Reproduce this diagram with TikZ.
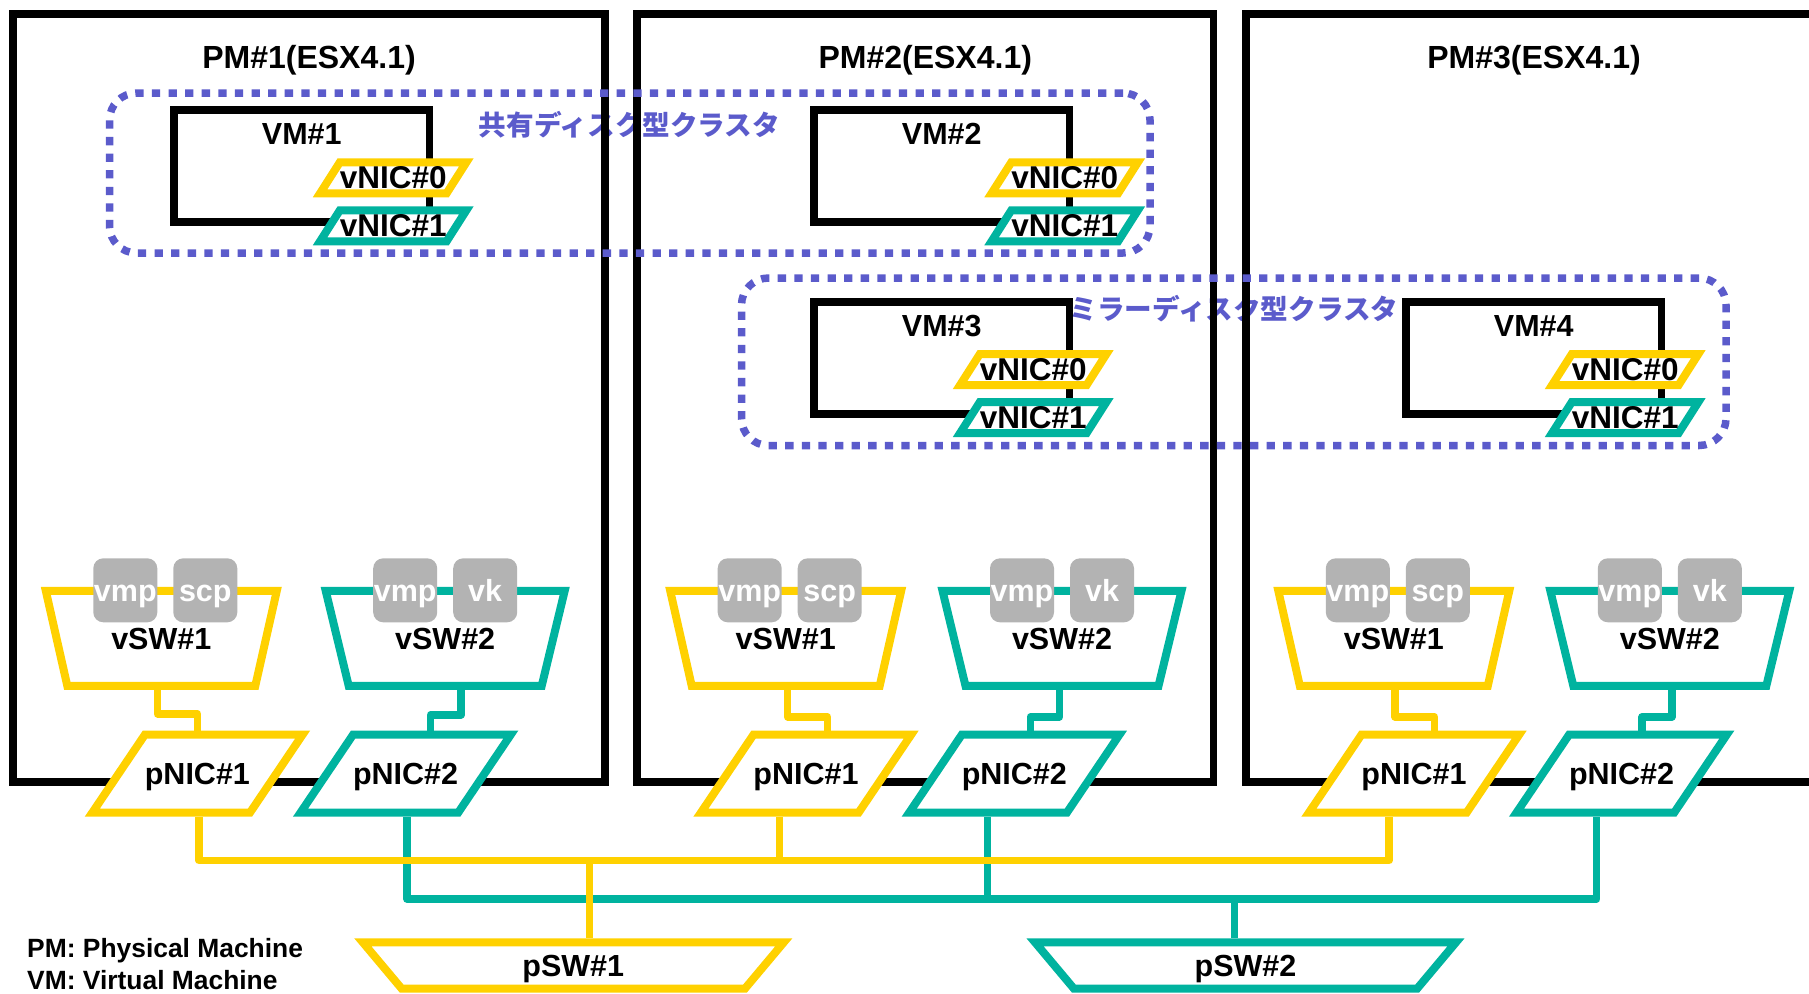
\documentclass[tikz,border=0pt]{standalone}
\usepackage{fontspec}
\setmainfont{Liberation Sans}
\newfontfamily\jpfont{Noto Sans CJK JP}
\usetikzlibrary{shapes.geometric}
\definecolor{nicyellow}{HTML}{FFD100}
\definecolor{nicteal}{HTML}{00B39F}
\definecolor{clusterblue}{HTML}{5B5BCB}
\definecolor{portgray}{HTML}{B3B3B3}
\tikzset{
  lbl/.style={font=\fontsize{30.5}{36}\selectfont\bfseries, text height=22pt, text depth=0pt, inner sep=0pt},
  title/.style={lbl, font=\fontsize{32}{38}\selectfont\bfseries},
  legend/.style={font=\fontsize{26.4}{32}\selectfont\bfseries, text height=19pt, text depth=0pt, inner sep=0pt, anchor=west},
  jplbl/.style={font=\jpfont\bfseries\fontsize{27.6}{32}\selectfont, text=clusterblue, inner sep=0pt},
  pmbox/.style={draw, line width=7.5pt, inner sep=0pt, minimum height=768pt},
  vmbox/.style={draw, line width=7.5pt, fill=white, inner sep=0pt, minimum width=255.5pt, minimum height=112pt},
  cluster/.style={draw=clusterblue, line width=7.5pt, dash pattern=on 8.3pt off 8.3pt, rounded corners=27pt, inner sep=0pt},
  shapebox/.style={trapezium, trapezium stretches body=true, fill=white, line width=8pt, lbl},
  vnic/.style={shapebox, trapezium left angle=57.5, trapezium right angle=122.5, minimum width=146pt, inner ysep=4.5pt, font=\fontsize{31.5}{36}\selectfont\bfseries},
  pnic/.style={shapebox, trapezium left angle=56, trapezium right angle=124, minimum width=208pt, inner ysep=28pt},
  vswa/.style={shapebox, trapezium angle=102.75, minimum width=231pt, inner ysep=36.5pt},
  vswb/.style={shapebox, trapezium angle=103.6, minimum width=239pt, inner ysep=36.5pt},
  psw/.style={shapebox, trapezium angle=130, minimum width=421pt, inner ysep=12.2pt},
  port/.style={lbl, fill=portgray, text=white, rounded corners=10pt, minimum size=64pt},
  ylw/.style={draw=nicyellow},
  tel/.style={draw=nicteal},
  ylwline/.style={nicyellow, line width=7.5pt, line join=round},
  telline/.style={nicteal, line width=7.5pt, line join=round}
}
\begin{document}
\begin{tikzpicture}[x=1pt, y=-1pt]
    \useasboundingbox (0,0) rectangle (1809,993);
    % cluster names lie under the machine frames
    \node[jplbl] (jp1) at (629.5,125) {共有ディスク型クラスタ};
    \node[jplbl] (jp2) at (1234,309) {ミラーディスク型クラスタ};
    % physical machines
    \node[pmbox, minimum width=592pt] (pm1) at (309,398) {};
    \node[pmbox, minimum width=576.5pt] (pm2) at (925.25,398) {};
    \node[pmbox, minimum width=576pt] (pm3) at (1534,398) {};
    \node[title] (pm1t) at (309,57) {PM\#1(ESX4.1)};
    \node[title] (pm2t) at (925.25,57) {PM\#2(ESX4.1)};
    \node[title] (pm3t) at (1534,57) {PM\#3(ESX4.1)};
    % virtual machines
    \node[vmbox] (vm1) at (301.75,166) {};
    \node[vmbox] (vm2) at (941.75,166) {};
    \node[vmbox] (vm3) at (941.75,357.75) {};
    \node[vmbox] (vm4) at (1533.75,357.75) {};
    \node[lbl] (vm1t) at ([yshift=-27pt]vm1.north) {VM\#1};
    \node[lbl] (vm2t) at ([yshift=-27pt]vm2.north) {VM\#2};
    \node[lbl] (vm3t) at ([yshift=-27pt]vm3.north) {VM\#3};
    \node[lbl] (vm4t) at ([yshift=-27pt]vm4.north) {VM\#4};
    \node[vnic, ylw] (vnic10) at ([xshift=-40pt,yshift=48pt]vm1.south east) {vNIC\#0};
    \node[vnic, tel] (vnic11) at ([xshift=-40pt]vm1.south east) {vNIC\#1};
    \node[vnic, ylw] (vnic20) at ([xshift=-8.5pt,yshift=48pt]vm2.south east) {vNIC\#0};
    \node[vnic, tel] (vnic21) at ([xshift=-8.5pt]vm2.south east) {vNIC\#1};
    \node[vnic, ylw] (vnic30) at ([xshift=-40pt,yshift=48pt]vm3.south east) {vNIC\#0};
    \node[vnic, tel] (vnic31) at ([xshift=-40pt]vm3.south east) {vNIC\#1};
    \node[vnic, ylw] (vnic40) at ([xshift=-40pt,yshift=48pt]vm4.south east) {vNIC\#0};
    \node[vnic, tel] (vnic41) at ([xshift=-40pt]vm4.south east) {vNIC\#1};
    % clusters
    \node[cluster, minimum width=1040.5pt, minimum height=160pt] (cl1) at (629.75,173) {};
    \node[cluster, minimum width=984.5pt, minimum height=167.5pt] (cl2) at (1233.75,361.75) {};
    % virtual switches
    \node[vswa, ylw] (vsw11) at (161.3,638.3) {vSW\#1};
    \node[vswb, tel] (vsw12) at (445.2,638.3) {vSW\#2};
    \node[vswa, ylw] (vsw21) at (785.7,638.3) {vSW\#1};
    \node[vswb, tel] (vsw22) at (1062,638.3) {vSW\#2};
    \node[vswa, ylw] (vsw31) at (1393.8,638.3) {vSW\#1};
    \node[vswb, tel] (vsw32) at (1669.8,638.3) {vSW\#2};
    \node[port] (vmp11) at ([xshift=-36pt,yshift=48pt]vsw11.center) {vmp};
    \node[port] (scp11) at ([xshift=44pt,yshift=48pt]vsw11.center) {scp};
    \node[port] (vmp12) at ([xshift=-40pt,yshift=48pt]vsw12.center) {vmp};
    \node[port] (vk12) at ([xshift=40pt,yshift=48pt]vsw12.center) {vk};
    \node[port] (vmp21) at ([xshift=-36pt,yshift=48pt]vsw21.center) {vmp};
    \node[port] (scp21) at ([xshift=44pt,yshift=48pt]vsw21.center) {scp};
    \node[port] (vmp22) at ([xshift=-40pt,yshift=48pt]vsw22.center) {vmp};
    \node[port] (vk22) at ([xshift=40pt,yshift=48pt]vsw22.center) {vk};
    \node[port] (vmp31) at ([xshift=-36pt,yshift=48pt]vsw31.center) {vmp};
    \node[port] (scp31) at ([xshift=44pt,yshift=48pt]vsw31.center) {scp};
    \node[port] (vmp32) at ([xshift=-40pt,yshift=48pt]vsw32.center) {vmp};
    \node[port] (vk32) at ([xshift=40pt,yshift=48pt]vsw32.center) {vk};
    % physical NICs
    \node[pnic, ylw] (pnic11) at (197.4,773.7) {pNIC\#1};
    \node[pnic, tel] (pnic12) at (405.6,773.7) {pNIC\#2};
    \node[pnic, ylw] (pnic21) at (806,773.7) {pNIC\#1};
    \node[pnic, tel] (pnic22) at (1014.3,773.7) {pNIC\#2};
    \node[pnic, ylw] (pnic31) at (1414,773.7) {pNIC\#1};
    \node[pnic, tel] (pnic32) at (1621.6,773.7) {pNIC\#2};
    % physical switches
    \node[psw, ylw] (psw1) at (573.3,965.5) {pSW\#1};
    \node[psw, tel] (psw2) at (1245.5,965.5) {pSW\#2};
    % uplinks
    \draw[ylwline] ([xshift=-4pt]vsw11.south) -- ++(0,24) -| (pnic11.north);
    \draw[telline] ([xshift=16pt]vsw12.south) -- ++(0,25) -| ([xshift=25pt]pnic12.north);
    \draw[ylwline] ([xshift=2pt]vsw21.south) -- ++(0,27) -| ([xshift=21.5pt]pnic21.north);
    \draw[telline] ([xshift=-2.5pt]vsw22.south) -- ++(0,27) -| ([xshift=16pt]pnic22.north);
    \draw[ylwline] ([xshift=1pt]vsw31.south) -- ++(0,27) -| ([xshift=20.5pt]pnic31.north);
    \draw[telline] ([xshift=2pt]vsw32.south) -- ++(0,27) -| ([xshift=20.5pt]pnic32.north);
    % buses
    \coordinate (ybus1) at (199,860.5);
    \coordinate (ybus2) at (779.5,860.5);
    \coordinate (ybus3) at (1389,860.5);
    \coordinate (ybusp) at (589.5,860.5);
    \coordinate (tbus1) at (407,899);
    \coordinate (tbus2) at (987.7,899);
    \coordinate (tbus3) at (1596.7,899);
    \coordinate (tbusp) at (1234.6,899);
    \draw[telline] (tbus1 |- pnic12.south) -- (tbus1) -- (tbus3) -- (tbus3 |- pnic32.south);
    \draw[telline] (tbus2 |- pnic22.south) -- (tbus2);
    \draw[telline] (tbusp) -- (tbusp |- psw2.north);
    \draw[ylwline] (ybus1 |- pnic11.south) -- (ybus1) -- (ybus3) -- (ybus3 |- pnic31.south);
    \draw[ylwline] (ybus2 |- pnic21.south) -- (ybus2);
    \draw[ylwline] (ybusp) -- (ybusp |- psw1.north);
    % legend
    \node[legend] (legpm) at (27,948) {PM: Physical Machine};
    \node[legend] (legvm) at (27,980) {VM: Virtual Machine};
\end{tikzpicture}
\end{document}
